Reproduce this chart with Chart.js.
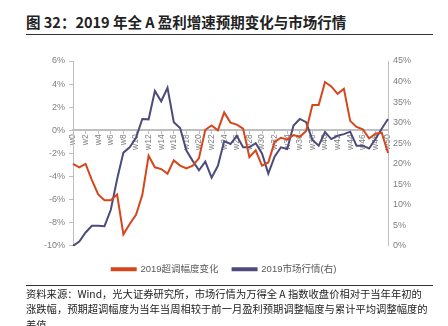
<!DOCTYPE html>
<html>
<head>
<meta charset="utf-8">
<script src="https://cdn.jsdelivr.net/npm/chart.js@4.4.1/dist/chart.umd.min.js"></script>
<style>
  html, body { margin: 0; padding: 0; background: #fff; }
  body { width: 448px; height: 326px; position: relative; overflow: hidden; font-family: "Noto Sans CJK SC", "Liberation Sans", sans-serif; }
  #titulo { position: absolute; left: 26px; top: 11px; width: 407px; height: 23px; border-bottom: 1px solid #333; font-size: 14.5px; font-weight: bold; color: #222; line-height: 21px; white-space: nowrap; }
  #grafico { position: absolute; left: 0; top: 50px; width: 448px; height: 238px; }
  #fonte { position: absolute; left: 26px; top: 285px; width: 407px; border-top: 1px solid #333; font-size: 10.3px; line-height: 15.3px; color: #222; white-space: nowrap; }
</style>
</head>
<body>
<div id="titulo">图 32：2019 年全 A 盈利增速预期变化与市场行情</div>
<div id="grafico"><canvas id="graficoLinhas"></canvas></div>
<div id="fonte">资料来源：Wind，光大证券研究所，市场行情为万得全 A 指数收盘价相对于当年年初的<br>涨跌幅，预期超调幅度为当年当周相较于前一月盈利预期调整幅度与累计平均调整幅度的<br>差值</div>

<script>
// semanas w0..w50
const semanas = ["w0","w1","w2","w3","w4","w5","w6","w7","w8","w9","w10","w11","w12","w13","w14","w15","w16","w17","w18","w19","w20","w21","w22","w23","w24","w25","w26","w27","w28","w29","w30","w31","w32","w33","w34","w35","w36","w37","w38","w39","w40","w41","w42","w43","w44","w45","w46","w47","w48","w49","w50"];

// 2019超调幅度变化 (%), eixo esquerdo
const superajuste = [-2.9, -3.2, -2.9, -4.3, -5.55, -6.05, -6.05, -5.55, -9.0, -8.1, -7.3, -5.6, -2.2, -3.2, -3.35, -3.75, -2.6, -3.05, -3.3, -3.05, -2.4, 0.05, 0.42, 0.0, 1.55, 0.67, 0.5, 0.15, -2.33, -1.73, -3.05, -2.78, -1.0, -0.64, -0.79, -0.41, -0.56, -0.06, 2.19, 2.19, 4.18, 3.8, 3.16, 3.6, 0.82, 0.29, 0.09, -0.7, -0.29, -0.2, -1.96];

// 2019市场行情 (%), eixo direito
const mercado = [0, 1.06, 3.27, 4.9, 4.9, 4.8, 8.8, 16.2, 22.7, 24.0, 26.3, 30.9, 30.8, 37.7, 35.2, 38.5, 30.1, 28.7, 23.2, 20.7, 18.4, 20.5, 16.6, 19.5, 25.5, 24.8, 26.8, 24.0, 24.0, 25.0, 22.5, 17.6, 21.7, 24.0, 23.6, 29.3, 30.9, 30.1, 25.8, 24.4, 27.7, 26.0, 26.8, 27.2, 27.8, 24.4, 24.4, 23.7, 26.0, 28.5, 30.9];

// escalas
const eixoEsq = { min: -10, max: 6, passo: 2 };
const eixoDir = { min: 0, max: 45, passo: 5 };

const VERMELHO = "#D6461D";
const ROXO = "#4C4B7C";
const CINZA = "#7F7F7F";

new Chart(document.getElementById("graficoLinhas"), {
  type: "line",
  data: {
    labels: semanas,
    datasets: [
      {
        label: "2019超调幅度变化",
        data: superajuste,
        borderColor: VERMELHO,
        backgroundColor: VERMELHO,
        borderWidth: 2,
        pointRadius: 0,
        tension: 0,
        yAxisID: "y"
      },
      {
        label: "2019市场行情(右)",
        data: mercado,
        borderColor: ROXO,
        backgroundColor: ROXO,
        borderWidth: 2,
        pointRadius: 0,
        tension: 0,
        yAxisID: "y1"
      }
    ]
  },
  options: {
    responsive: true,
    maintainAspectRatio: false,
    animation: false,
    layout: { padding: { top: 11, bottom: 4, left: 0, right: 0 } },
    plugins: {
      tooltip: { enabled: false },
      legend: {
        position: "bottom",
        // titulo vazio so para empurrar a legenda uns px pra baixo
        title: { display: true, text: " ", font: { size: 2 }, padding: { top: 0, bottom: 2.2 } },
        labels: {
          boxWidth: 24,
          boxHeight: 2,
          padding: 14,
          color: "#595959",
          font: { size: 9.5, family: "'Liberation Sans', 'Noto Sans CJK SC'" }
        }
      }
    },
    scales: {
      x: {
        position: { y: 0 },
        offset: false,
        grid: { drawOnChartArea: false, drawTicks: true, tickLength: 3, color: "#BFBFBF" },
        border: { color: "#BFBFBF", width: 2 },
        ticks: {
          autoSkip: false,
          maxRotation: 90,
          minRotation: 90,
          padding: 1,
          color: CINZA,
          font: { size: 8.5, family: "'Liberation Sans'" },
          callback: (v, i) => (i % 2 === 0 ? semanas[i] : null)
        }
      },
      y: {
        position: "left",
        min: eixoEsq.min,
        max: eixoEsq.max,
        afterFit: s => { s.width = 73; },
        grid: { display: true, drawOnChartArea: false, tickLength: 4, color: "#BFBFBF" },
        border: { color: "#BFBFBF", width: 1 },
        ticks: {
          stepSize: eixoEsq.passo,
          padding: 4,
          color: CINZA,
          font: { size: 9, family: "'Liberation Sans'" },
          callback: v => v + "%"
        }
      },
      y1: {
        position: "right",
        min: eixoDir.min,
        max: eixoDir.max,
        afterFit: s => { s.width = 60; },
        grid: { display: true, drawOnChartArea: false, tickLength: 0, color: "#BFBFBF" },
        border: { color: "#BFBFBF", width: 1 },
        ticks: {
          stepSize: eixoDir.passo,
          padding: 5,
          color: CINZA,
          font: { size: 9, family: "'Liberation Sans'" },
          callback: v => v + "%"
        }
      }
    }
  }
});
</script>
</body>
</html>
